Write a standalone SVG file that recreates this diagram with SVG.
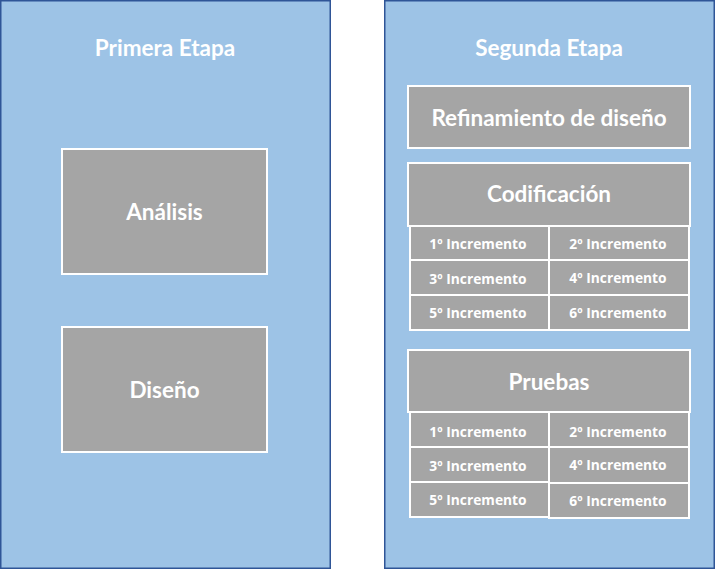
<svg xmlns="http://www.w3.org/2000/svg" width="715" height="569" viewBox="0 0 715 569">
<style>
.panel{fill:#9DC3E6;stroke:#2F5597;stroke-width:1.5}
.box{fill:#A5A5A5;stroke:#FFFFFF;stroke-width:2}
.t{font-family:Lato,"Liberation Sans",sans-serif;font-weight:bold;fill:#FFFFFF;text-anchor:middle;dominant-baseline:central}
.h{font-size:22.5px}
.m{font-size:22.5px}
.s{font-family:"Open Sans","Liberation Sans",sans-serif;font-size:13.8px}
</style>
<rect width="715" height="569" fill="#FFFFFF"/>
<g id="primera-etapa">
<rect class="panel" x="0.75" y="0.75" width="329.5" height="567.5"/>
<text class="t h" x="165" y="47">Primera Etapa</text>
</g>
<g id="analisis">
<rect class="box" x="62" y="149" width="205" height="125"/>
<text class="t m" x="164.5" y="211">Análisis</text>
</g>
<g id="diseno">
<rect class="box" x="62" y="327" width="205" height="125"/>
<text class="t m" x="164.5" y="389">Diseño</text>
</g>
<g id="segunda-etapa">
<rect class="panel" x="384.75" y="0.75" width="329.5" height="567.5"/>
<text class="t h" x="549" y="47">Segunda Etapa</text>
</g>
<g id="refinamiento">
<rect class="box" x="408" y="86" width="282" height="62"/>
<text class="t m" x="549" y="117">Refinamiento de diseño</text>
</g>
<g id="codificacion">
<rect class="box" x="408" y="163" width="282" height="63"/>
<text class="t m" x="549" y="193">Codificación</text>
</g>
<g id="cod-inc">
<rect class="box" x="410" y="226" width="139" height="34"/><text class="t s" x="478" y="243">1º Incremento</text>
<rect class="box" x="549" y="226" width="140" height="34"/><text class="t s" x="618" y="243">2º Incremento</text>
<rect class="box" x="410" y="260" width="139" height="35"/><text class="t s" x="478" y="278">3º Incremento</text>
<rect class="box" x="549" y="260" width="140" height="35"/><text class="t s" x="618" y="277">4º Incremento</text>
<rect class="box" x="410" y="295" width="139" height="35"/><text class="t s" x="478" y="312">5º Incremento</text>
<rect class="box" x="549" y="295" width="140" height="35"/><text class="t s" x="618" y="312">6º Incremento</text>
</g>
<g id="pruebas">
<rect class="box" x="408" y="350" width="282" height="62"/>
<text class="t m" x="549" y="381">Pruebas</text>
</g>
<g id="pru-inc">
<rect class="box" x="410" y="412" width="139" height="35"/><text class="t s" x="478" y="431">1º Incremento</text>
<rect class="box" x="549" y="412" width="140" height="35"/><text class="t s" x="618" y="431">2º Incremento</text>
<rect class="box" x="410" y="447" width="139" height="35"/><text class="t s" x="478" y="465">3º Incremento</text>
<rect class="box" x="549" y="447" width="140" height="36"/><text class="t s" x="618" y="464">4º Incremento</text>
<rect class="box" x="410" y="482" width="139" height="35"/><text class="t s" x="478" y="499">5º Incremento</text>
<rect class="box" x="549" y="483" width="140" height="35"/><text class="t s" x="618" y="500">6º Incremento</text>
</g>
<g id="connectors"></g>
</svg>
